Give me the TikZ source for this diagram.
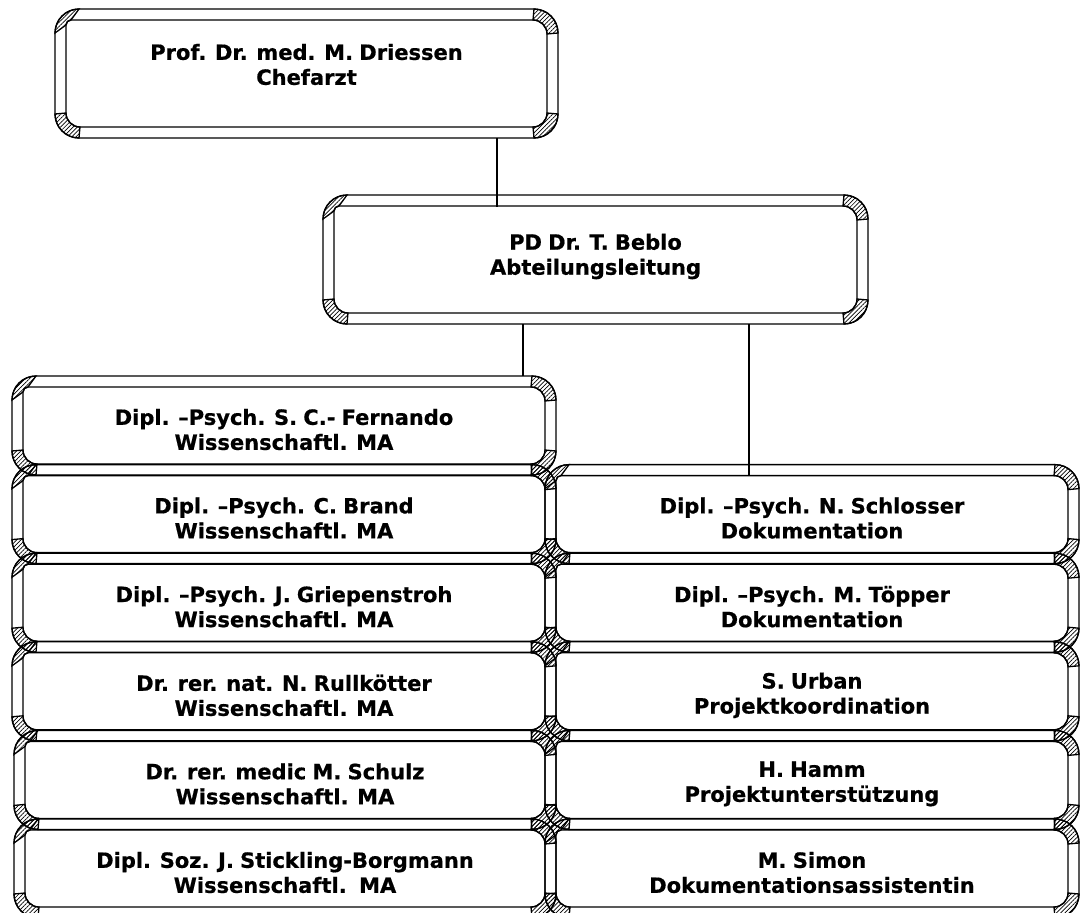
\documentclass[tikz,border=0pt]{standalone}
\usepackage{fontspec}
\newfontfamily\boxfont{DejaVu Sans Bold}[FakeBold=0.6, WordSpace=0.85]
\usetikzlibrary{patterns.meta}
\tikzset{
  boxline/.style={line width=1.3pt, draw=black},
  hatch/.style={pattern={Lines[angle=45,distance=3pt,line width=0.7pt]}, pattern color=black},
  boxtext/.style={font=\boxfont\fontsize{21}{25}\selectfont, align=center, inner sep=0pt},
  boxnode/.style={inner sep=0pt, outer sep=0pt, draw=none},
  conn/.style={line width=1.8pt, draw=black},
}
% #1 name, #2 x1, #3 y1 (top, px), #4 x2, #5 y2 (bottom, px), #6 text shift down, #7 text
\newcommand\bevelbox[7]{%
  \pgfmathsetmacro\bxL{#2}%
  \pgfmathsetmacro\bxR{#4}%
  \pgfmathsetmacro\bxT{-(#3)}%
  \pgfmathsetmacro\bxB{-(#5)}%
  \pgfmathsetmacro\bxiL{\bxL+11}%
  \pgfmathsetmacro\bxiR{\bxR-11}%
  \pgfmathsetmacro\bxiT{\bxT-11}%
  \pgfmathsetmacro\bxiB{\bxB+11}%
  \pgfmathsetmacro\bxW{\bxR-\bxL}%
  \pgfmathsetmacro\bxH{\bxT-\bxB}%
  % corner bevels
  \draw[boxline,hatch] (\bxR-24,\bxT) arc[start angle=90,end angle=0,radius=24pt]
     -- (\bxiR,\bxiT-14) arc[start angle=0,end angle=90,radius=14pt] -- cycle;
  \draw[boxline,hatch] (\bxR,\bxB+24) arc[start angle=0,end angle=-90,radius=24pt]
     -- (\bxiR-14,\bxiB) arc[start angle=-90,end angle=0,radius=14pt] -- cycle;
  \draw[boxline,hatch] (\bxL+24,\bxB) arc[start angle=-90,end angle=-180,radius=24pt]
     -- (\bxiL,\bxiB+14) arc[start angle=180,end angle=270,radius=14pt] -- cycle;
  \draw[boxline,hatch] (\bxL,\bxT-24) arc[start angle=180,end angle=90,radius=24pt]
     -- (\bxiL+5,\bxiT) arc[start angle=90,end angle=180,radius=5pt] -- cycle;
  % outer frame
  \draw[boxline, rounded corners=24pt] (\bxL,\bxT) rectangle (\bxR,\bxB);
  % inner face
  \draw[boxline] (\bxiL+5,\bxiT) -- (\bxiR-14,\bxiT) arc[start angle=90,end angle=0,radius=14pt]
     -- (\bxiR,\bxiB+14) arc[start angle=0,end angle=-90,radius=14pt]
     -- (\bxiL+14,\bxiB) arc[start angle=270,end angle=180,radius=14pt]
     -- (\bxiL,\bxiT-5) arc[start angle=180,end angle=90,radius=5pt] -- cycle;
  \node[boxnode, minimum width=\bxW pt, minimum height=\bxH pt] (#1) at ({(\bxL+\bxR)/2},{(\bxT+\bxB)/2}) {};
  \node[boxtext] (#1-t) at ({(\bxL+\bxR)/2},{(\bxT+\bxB)/2-(#6)}) {#7};
}
\begin{document}
\begin{tikzpicture}[x=1pt,y=1pt]
  \fill[white] (0,0) rectangle (1082,-913);
  \useasboundingbox (0,0) rectangle (1082,-913);
  \clip (0,0) rectangle (1082,-913);

  \bevelbox{dri}{55}{9}{558}{138}{-9}{Prof. Dr. med. M. Driessen\\Chefarzt}
  \bevelbox{beb}{323}{195}{868}{324}{-3}{PD Dr. T. Beblo\\Abteilungsleitung}

  % left column
  \bevelbox{fer}{12}{376}{556}{475}{4}{Dipl. –Psych. S. C.- Fernando\\Wissenschaftl. MA}
  \bevelbox{bra}{12}{464.6}{556}{563.6}{4}{Dipl. –Psych. C. Brand\\Wissenschaftl. MA}
  \bevelbox{gri}{12}{553.2}{556}{652.2}{4}{Dipl. –Psych. J. Griepenstroh\\Wissenschaftl. MA}
  \bevelbox{rul}{12}{641.8}{556}{740.8}{4}{Dr. rer. nat. N. Rullkötter\\Wissenschaftl. MA}
  \bevelbox{sch}{14}{730.4}{556}{829.4}{4}{Dr. rer. medic M. Schulz\\Wissenschaftl. MA}
  \bevelbox{sti}{14}{819}{556}{918}{4}{Dipl. Soz. J. Stickling-Borgmann\\Wissenschaftl.\ \ MA}

  % right column
  \bevelbox{slo}{545}{464.6}{1079}{563.6}{4}{Dipl. –Psych. N. Schlosser\\Dokumentation}
  \bevelbox{toe}{545}{553.2}{1079}{652.2}{4}{Dipl. –Psych. M. Töpper\\Dokumentation}
  \bevelbox{urb}{545}{641.8}{1079}{740.8}{4}{S. Urban\\Projektkoordination}
  \bevelbox{ham}{545}{730.4}{1079}{829.4}{4}{H. Hamm\\Projektunterstützung}
  \bevelbox{sim}{545}{819}{1079}{918}{4}{M. Simon\\Dokumentationsassistentin}

  % connectors
  \coordinate (c0) at (497,0);
  \coordinate (c1) at (523,0);
  \coordinate (c2) at (749,0);
  \coordinate (bebin) at ([yshift=-12pt]beb.north);
  \coordinate (sloin) at ([yshift=-11pt]slo.north);
  \draw[conn] (dri.south -| c0) -- (bebin -| c0);
  \draw[conn] (beb.south -| c1) -- (fer.north -| c1);
  \draw[conn] (beb.south -| c2) -- (sloin -| c2);
\end{tikzpicture}
\end{document}
